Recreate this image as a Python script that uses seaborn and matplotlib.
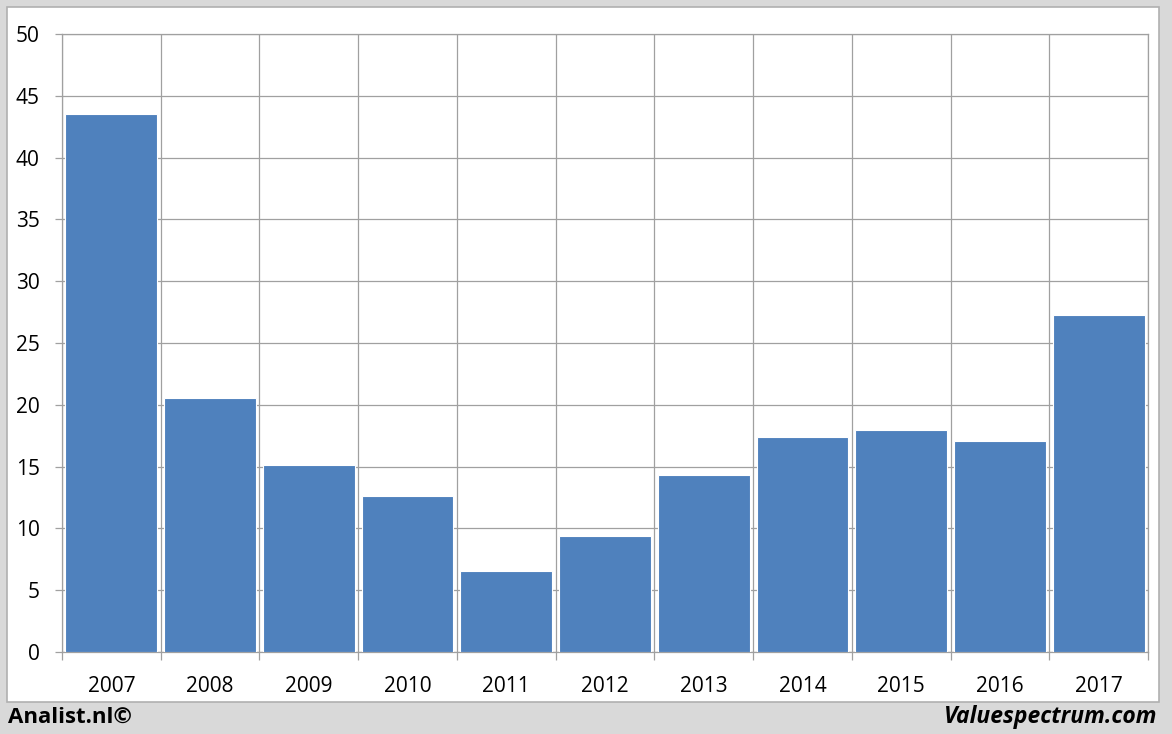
import matplotlib
matplotlib.use("Agg")
import matplotlib.pyplot as plt
import seaborn as sns
import pandas as pd
from matplotlib.patches import Rectangle
from matplotlib.ticker import FixedLocator

years = ["2007", "2008", "2009", "2010", "2011", "2012", "2013", "2014", "2015", "2016", "2017"]
values = [43.5, 20.55, 15.1, 12.6, 6.55, 9.4, 14.3, 17.4, 17.95, 17.05, 27.25]
y_ticks = [0, 5, 10, 15, 20, 25, 30, 35, 40, 45, 50]

sns.set_style("white")
plt.rcParams['font.family'] = ['Open Sans', 'DejaVu Sans']

W, H = 1172, 734
fig = plt.figure(figsize=(W / 100, H / 100), dpi=100, facecolor="#d9d9d9")

# white panel
panel = Rectangle((7 / W, 1 - 702 / H), (1159 - 7) / W, (702 - 7) / H,
                  transform=fig.transFigure, facecolor="white",
                  edgecolor="#b0b0b0", linewidth=1.2, zorder=-5)
fig.patches.append(panel)

ax = fig.add_axes([62 / W, 1 - 652 / H, (1148 - 62) / W, (652 - 34) / H])
ax.set_zorder(5)
ax.set_facecolor("white")
df = pd.DataFrame({"year": years, "value": values})
sns.barplot(data=df, x="year", y="value", color="#4f81bd", saturation=1,
            width=0.93, ax=ax, zorder=3, edgecolor="white", linewidth=0.8)

ax.set_xlim(-0.5, len(years) - 0.5)
ax.set_ylim(0, 50)
ax.set_yticks(y_ticks)
ax.set_xlabel("")
ax.set_ylabel("")

gc = "#a0a0a0"
lw = 0.9
ax.xaxis.set_minor_locator(FixedLocator([i - 0.5 for i in range(len(years) + 1)]))
ax.grid(True, which="minor", axis="x", color=gc, linewidth=lw, zorder=0)
ax.grid(True, which="major", axis="y", color=gc, linewidth=lw, zorder=0)
ax.set_axisbelow(True)

ax.tick_params(axis="x", which="major", length=0, pad=17, labelsize=15, labelcolor="black")
ax.tick_params(axis="x", which="minor", length=6, width=lw, color=gc, direction="out", bottom=True)
ax.tick_params(axis="y", which="major", length=5, width=lw, color=gc, pad=11,
               labelsize=15, labelcolor="black", left=True)

for s in ax.spines.values():
    s.set_color(gc)
    s.set_linewidth(lw)

fig.text(8 / W, 1 - 717 / H, "Analist.nl©", fontsize=16, fontweight="bold",
         ha="left", va="center", color="black")
fig.text(1157 / W, 1 - 717 / H, "Valuespectrum.com", fontsize=16.5, fontweight="bold",
         fontstyle="italic", ha="right", va="center", color="black")

fig.savefig("out.png", dpi=100, facecolor=fig.get_facecolor())
